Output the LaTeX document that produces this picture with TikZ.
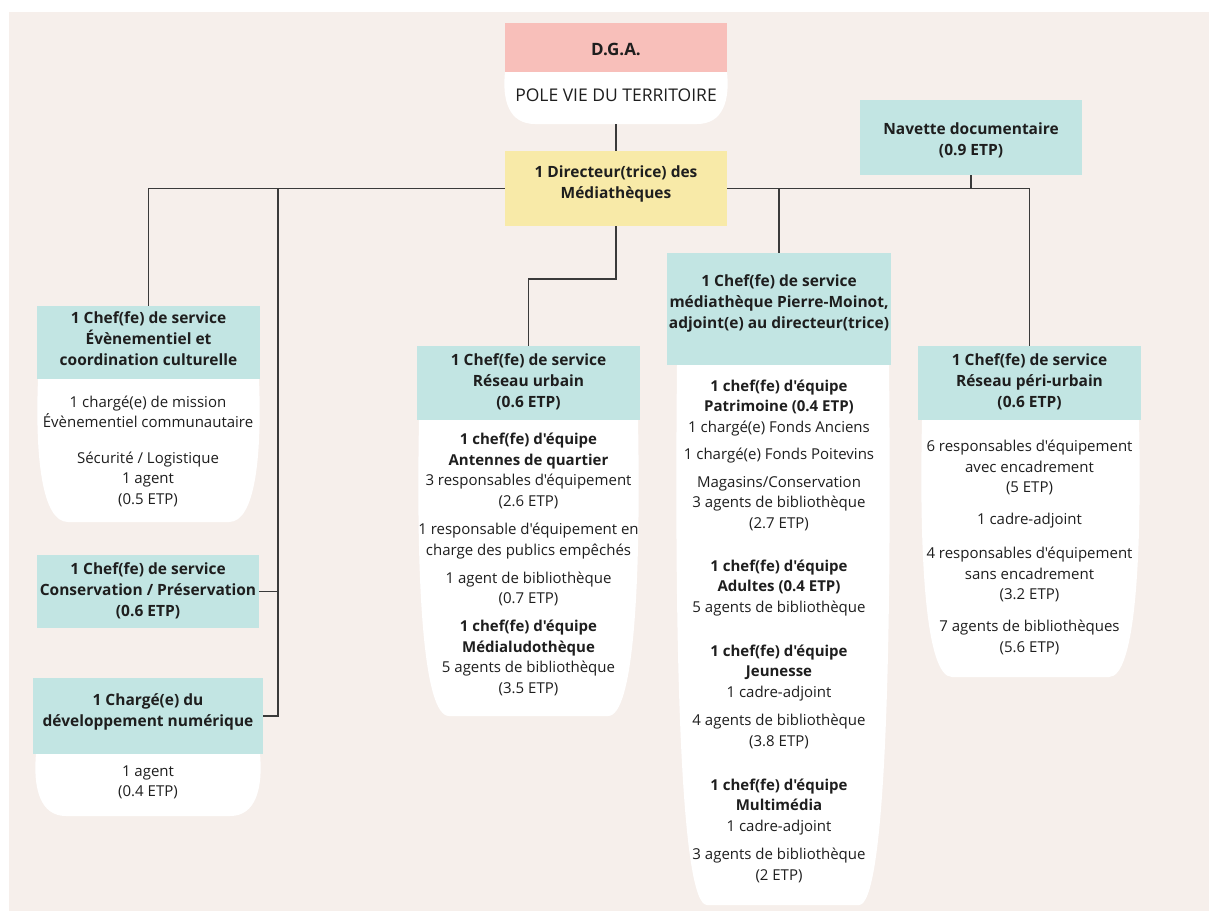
\documentclass[tikz,border=0pt]{standalone}
\usepackage{fontspec}
\setmainfont{Open Sans}[Ligatures=TeXOff]
\definecolor{bgc}{HTML}{F6EFEB}
\definecolor{tealbox}{HTML}{C2E5E3}
\definecolor{pinkbox}{HTML}{F8BFBA}
\definecolor{yellowbox}{HTML}{F8EAA8}
\definecolor{linec}{HTML}{3A3A3A}
\definecolor{txt}{HTML}{1E1E1E}
\newcommand\bodyshape[4]{%
  \pgfmathsetmacro\bsmid{#3+0.55*(#4-#3)}%
  \fill[white] (#1,#3) .. controls (#1-3,\bsmid) and (#1+4,#4) .. (#1+30,#4)
    -- (#2-30,#4) .. controls (#2-4,#4) and (#2+3,\bsmid) .. (#2,#3) -- cycle;}
\tikzset{
  hbox/.style={rectangle, inner sep=0pt, draw=none},
  htxt/.style={align=center, inner sep=0pt, text=txt, font=\fontsize{15.5}{21}\selectfont\bfseries},
  btxt/.style={align=center, inner sep=0pt, text=txt, font=\fontsize{15}{20.5}\selectfont},
  conn/.style={draw=linec, line width=1.4pt}
}
\begin{document}
\begin{tikzpicture}[x=1pt,y=-1pt]
\useasboundingbox (0,0) rectangle (1209,911);
\fill[white] (0,0) rectangle (1209,911);
\fill[bgc] (9,12) rectangle (1209,911);

% bodies
\bodyshape{505}{727}{72}{124}
\bodyshape{38}{259}{379}{522}
\bodyshape{36}{260}{754}{816}
\bodyshape{419}{638}{420}{716}
\bodyshape{677}{889}{365}{905}
\bodyshape{922}{1139}{420}{677}

% boxes
\node[hbox, fill=pinkbox, minimum width=222pt, minimum height=49pt] (dga) at (616,47.5) {};
\coordinate (dgaBot) at (616,124);
\node[hbox, fill=yellowbox, minimum width=222pt, minimum height=75pt] (dir) at (616,188.5) {};
\node[hbox, fill=tealbox, minimum width=222pt, minimum height=75pt] (nav) at (971,137.5) {};
\node[hbox, fill=tealbox, minimum width=223pt, minimum height=73pt] (evt) at (148.5,342.5) {};
\node[hbox, fill=tealbox, minimum width=222pt, minimum height=73pt] (cons) at (148,591.5) {};
\node[hbox, fill=tealbox, minimum width=230pt, minimum height=76pt] (num) at (148,716) {};
\node[hbox, fill=tealbox, minimum width=223pt, minimum height=74pt] (urb) at (528.5,383) {};
\node[hbox, fill=tealbox, minimum width=224pt, minimum height=112pt] (pm) at (779,309) {};
\node[hbox, fill=tealbox, minimum width=223pt, minimum height=74pt] (peri) at (1029.5,383) {};

% header texts
\node[htxt, font=\fontsize{17}{21}\selectfont\bfseries] (dgaT) at (616,49) {D.G.A.};
\node[btxt, font=\fontsize{17.5}{21}\selectfont] (dgaT2) at (616,95) {POLE VIE DU TERRITOIRE};
\node[htxt] (dirT) at (616,184) {1 Directeur(trice) des\\Médiathèques};
\node[htxt] (navT) at (971,140) {Navette documentaire\\(0.9 ETP)};
\node[htxt] (evtT) at (148.5,338.5) {1 Chef(fe) de service\\Évènementiel et\\coordination culturelle};
\node[htxt] (consT) at (148,590.5) {1 Chef(fe) de service\\Conservation / Préservation\\(0.6 ETP)};
\node[htxt] (numT) at (148,711.5) {1 Chargé(e) du\\développement numérique};
\node[htxt] (urbT) at (528.5,381.5) {1 Chef(fe) de service\\Réseau urbain\\(0.6 ETP)};
\node[htxt] (pmT) at (779,303.5) {1 Chef(fe) de service\\médiathèque Pierre-Moinot,\\adjoint(e) au directeur(trice)};
\node[htxt] (periT) at (1029.5,382) {1 Chef(fe) de service\\Réseau péri-urbain\\(0.6 ETP)};

% body texts
\node[btxt] (evtB1) at (148,412) {1 chargé(e) de mission\\Évènementiel communautaire};
\node[btxt] (evtB2) at (148,479) {Sécurité / Logistique\\1 agent\\(0.5 ETP)};
\node[btxt] (numB1) at (148,782.5) {1 agent\\(0.4 ETP)};

\node[btxt] (urbB1) at (528.5,471) {\textbf{1 chef(fe) d'équipe}\\\textbf{Antennes de quartier}\\3 responsables d'équipement\\(2.6 ETP)};
\node[btxt] (urbB2) at (528.5,541) {1 responsable d'équipement en\\charge des publics empêchés};
\node[btxt] (urbB3) at (528.5,589) {1 agent de bibliothèque\\(0.7 ETP)};
\node[btxt] (urbB4) at (528.5,658) {\textbf{1 chef(fe) d'équipe}\\\textbf{Médialudothèque}\\5 agents de bibliothèque\\(3.5 ETP)};

\node[btxt] (pmB1) at (779,408) {\textbf{1 chef(fe) d'équipe}\\\textbf{Patrimoine (0.4 ETP)}\\1 chargé(e) Fonds Anciens};
\node[btxt] (pmB2) at (779,456) {1 chargé(e) Fonds Poitevins};
\node[btxt] (pmB3) at (779,503.5) {Magasins/Conservation\\3 agents de bibliothèque\\(2.7 ETP)};
\node[btxt] (pmB4) at (779,588) {\textbf{1 chef(fe) d'équipe}\\\textbf{Adultes (0.4 ETP)}\\5 agents de bibliothèque};
\node[btxt] (pmB5) at (779,673) {\textbf{1 chef(fe) d'équipe}\\\textbf{Jeunesse}\\1 cadre-adjoint};
\node[btxt] (pmB6) at (779,731.5) {4 agents de bibliothèque\\(3.8 ETP)};
\node[btxt] (pmB7) at (779,807) {\textbf{1 chef(fe) d'équipe}\\\textbf{Multimédia}\\1 cadre-adjoint};
\node[btxt] (pmB8) at (779,865.5) {3 agents de bibliothèque\\(2 ETP)};

\node[btxt] (periB1) at (1029.5,467.5) {6 responsables d'équipement\\avec encadrement\\(5 ETP)};
\node[btxt] (periB2) at (1029.5,521) {1 cadre-adjoint};
\node[btxt] (periB3) at (1029.5,574.5) {4 responsables d'équipement\\sans encadrement\\(3.2 ETP)};
\node[btxt] (periB4) at (1029.5,637.5) {7 agents de bibliothèques\\(5.6 ETP)};

% connectors
\coordinate (jL) at (278,188.5);
\coordinate (jU) at (616,279);
\draw[conn] (dgaBot) -- (dir.north);
\draw[conn] (dir.west) -| (evt.north);
\draw[conn] (jL) |- (num.east);
\draw[conn] (cons.east) -- (cons.east -| jL);
\draw[conn] (dir.east) -| (peri.north);
\draw[conn] (nav.south) -- (nav.south |- dir.east);
\draw[conn] (pm.north |- dir.east) -- (pm.north);
\draw[conn] (dir.south) -- (jU) -| (urb.north);
\end{tikzpicture}
\end{document}
